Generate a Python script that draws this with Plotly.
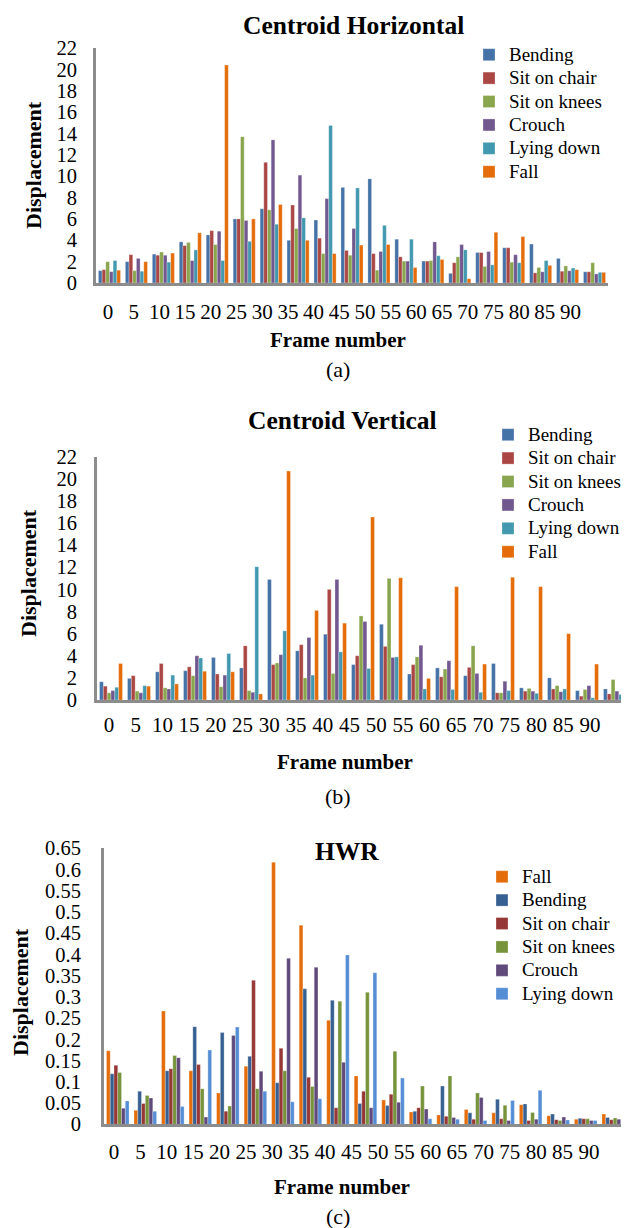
import plotly.graph_objects as go

# page body has a default 8px margin, so the figure is sized to fill the rest of the window
OFF = 8
W, H = 629 - OFF, 1228 - OFF

frames = ["0", "5", "10", "15", "20", "25", "30", "35", "40", "45",
          "50", "55", "60", "65", "70", "75", "80", "85", "90"]

# ---------- (a) Centroid Horizontal ----------
h_bending = [1.16, 2.0, 2.7, 3.85, 4.5, 6.0, 6.95, 4.0, 5.9, 8.95, 9.75, 4.1, 2.05, 0.9, 2.85, 3.3, 3.65, 2.3, 1.05]
h_chair   = [1.25, 2.65, 2.6, 3.5, 4.9, 6.0, 11.3, 7.3, 4.2, 3.05, 2.75, 2.45, 2.05, 1.9, 2.85, 3.3, 0.95, 1.1, 1.05]
h_knees   = [2.0, 1.15, 2.9, 3.8, 3.6, 13.7, 6.85, 5.1, 2.75, 2.6, 1.2, 2.05, 2.1, 2.45, 1.55, 1.95, 1.45, 1.6, 1.9]
h_crouch  = [1.06, 2.3, 2.6, 2.1, 4.85, 5.85, 13.4, 10.1, 7.9, 5.1, 2.95, 2.05, 3.85, 3.6, 2.95, 2.65, 1.05, 1.15, 0.85]
h_lying   = [2.1, 1.1, 1.95, 3.1, 2.1, 3.9, 5.5, 6.1, 14.75, 8.9, 5.4, 4.1, 2.55, 3.1, 1.7, 1.9, 2.1, 1.4, 1.0]
h_fall    = [1.2, 2.0, 2.8, 4.7, 20.4, 6.0, 7.35, 4.0, 2.75, 3.55, 3.6, 1.45, 2.2, 0.4, 4.75, 4.35, 1.65, 1.25, 1.0]

# ---------- (b) Centroid Vertical ----------
v_bending = [1.65, 1.95, 2.55, 2.65, 3.85, 2.9, 10.9, 4.45, 5.95, 3.2, 6.85, 2.35, 2.9, 2.2, 3.3, 1.1, 2.0, 0.85, 1.0]
v_chair   = [1.25, 2.2, 3.3, 3.0, 2.35, 4.9, 3.2, 5.0, 10.0, 4.0, 4.85, 3.2, 2.1, 2.95, 0.65, 0.8, 1.0, 0.35, 0.55]
v_knees   = [0.65, 0.8, 1.1, 2.2, 1.2, 0.85, 3.35, 2.0, 2.4, 7.6, 11.0, 3.9, 2.8, 4.9, 0.65, 1.05, 1.3, 0.95, 1.85]
v_crouch  = [0.85, 0.65, 1.0, 4.0, 2.25, 0.7, 4.1, 5.65, 10.9, 7.1, 3.85, 4.95, 3.55, 2.4, 1.7, 0.8, 0.75, 1.3, 0.8]
v_lying   = [1.15, 1.3, 2.25, 3.8, 4.2, 12.05, 6.25, 2.25, 4.35, 2.85, 3.9, 1.0, 0.95, 0.7, 0.85, 0.6, 1.0, 0.2, 0.5]
v_fall    = [3.3, 1.25, 1.45, 2.6, 2.55, 0.55, 20.7, 8.1, 6.95, 16.55, 11.05, 1.95, 10.25, 3.25, 11.1, 10.25, 6.0, 3.25, 5.85]

# ---------- (c) HWR ----------
r_fall    = [0.173, 0.033, 0.267, 0.126, 0.074, 0.137, 0.617, 0.469, 0.245, 0.114, 0.057, 0.029, 0.022, 0.035, 0.027, 0.046, 0.020, 0.012, 0.024]
r_bending = [0.119, 0.078, 0.126, 0.230, 0.216, 0.160, 0.098, 0.319, 0.292, 0.049, 0.044, 0.031, 0.090, 0.027, 0.059, 0.048, 0.024, 0.014, 0.016]
r_chair   = [0.139, 0.049, 0.131, 0.141, 0.031, 0.339, 0.179, 0.111, 0.039, 0.078, 0.071, 0.039, 0.019, 0.012, 0.013, 0.009, 0.011, 0.013, 0.011]
r_knees   = [0.122, 0.068, 0.162, 0.084, 0.043, 0.084, 0.126, 0.089, 0.290, 0.311, 0.172, 0.090, 0.114, 0.074, 0.045, 0.028, 0.009, 0.013, 0.015]
r_crouch  = [0.038, 0.062, 0.157, 0.017, 0.209, 0.125, 0.391, 0.370, 0.146, 0.039, 0.052, 0.036, 0.016, 0.063, 0.009, 0.012, 0.017, 0.009, 0.012]
r_lying   = [0.055, 0.031, 0.042, 0.175, 0.229, 0.078, 0.053, 0.060, 0.399, 0.357, 0.109, 0.013, 0.012, 0.009, 0.056, 0.080, 0.010, 0.009, 0.009]

ab_names = ["Bending", "Sit on chair", "Sit on knees", "Crouch", "Lying down", "Fall"]
ab_colors = ["#4572A7", "#AA4643", "#89A54E", "#71588F", "#4198AF", "#E46C0A"]
c_names = ["Fall", "Bending", "Sit on chair", "Sit on knees", "Crouch", "Lying down"]
c_colors = ["#E46C0A", "#376092", "#953735", "#77933C", "#604A7B", "#558ED5"]

ab_ticks = list(range(0, 23, 2))
c_tickvals = [0, 0.05, 0.1, 0.15, 0.2, 0.25, 0.3, 0.35, 0.4, 0.45, 0.5, 0.55, 0.6, 0.65]
c_ticktext = ["0", "0.05", "0.1", "0.15", "0.2", "0.25", "0.3", "0.35", "0.4", "0.45", "0.5", "0.55", "0.6", "0.65"]

SERIF = "Liberation Serif, Times New Roman, serif"
LEG_TEXT = 19      # displayed legend text size
LEG_ROW = 15.7     # legend font size that sets the row spacing

# helpers: window pixel position -> paper fraction
def px(v):
    return (v - OFF) / W

def py(v):
    return 1 - (v - OFF) / H

fig = go.Figure()

panels = [
    dict(series=[h_bending, h_chair, h_knees, h_crouch, h_lying, h_fall], names=ab_names, colors=ab_colors,
         xa="x", ya="y", la="x4", legend="legend"),
    dict(series=[v_bending, v_chair, v_knees, v_crouch, v_lying, v_fall], names=ab_names, colors=ab_colors,
         xa="x2", ya="y2", la="x5", legend="legend2"),
    dict(series=[r_fall, r_bending, r_chair, r_knees, r_crouch, r_lying], names=c_names, colors=c_colors,
         xa="x3", ya="y3", la="x6", legend="legend3"),
]

for p in panels:
    for vals, name, col in zip(p["series"], p["names"], p["colors"]):
        fig.add_trace(go.Bar(x=frames, y=vals,
                             name=f'<span style="font-size:{LEG_TEXT}px">{name}</span>',
                             marker_color=col,
                             marker_line=dict(color="rgba(255,255,255,0.55)", width=0.5),
                             xaxis=p["xa"], yaxis=p["ya"], legend=p["legend"]))
    # invisible helper trace carrying the category tick labels
    fig.add_trace(go.Scatter(x=frames, y=p["series"][0], mode="markers",
                             marker=dict(opacity=0), showlegend=False, hoverinfo="skip",
                             xaxis=p["la"], yaxis=p["ya"]))

axis_line = dict(showline=True, linecolor="#8C8C8C", linewidth=3, showgrid=False,
                 zeroline=False, ticks="", automargin=False)
tickfont = dict(family=SERIF, size=20.5, color="black")
lab_axis = dict(type="category", range=[-0.5, 18.5], showline=False, showgrid=False,
                zeroline=False, ticks="", tickfont=dict(family=SERIF, size=21, color="black"),
                tickmode="linear", tick0=0, dtick=1, automargin=False)

# plot areas (window pixel positions)
A = dict(x0=96, x1=608, y0=48, y1=283)
B = dict(x0=97, x1=629, y0=456.7, y1=700)
C = dict(x0=104, x1=627, y0=848.3, y1=1124.3)
# label-axis extents (tick label placement)
LA = (95.15, 583.4)
LB = (95.6, 603.3)
LC = (100.8, 602.2)

def legend_at(x, y):
    return dict(x=px(x), y=py(y), xanchor="left", yanchor="top", traceorder="normal",
                font=dict(family=SERIF, size=LEG_ROW, color="black"),
                bgcolor="rgba(0,0,0,0)", itemwidth=30)

layout = dict(
    width=W, height=H, margin=dict(l=0, r=0, t=0, b=0, autoexpand=False),
    paper_bgcolor="white", plot_bgcolor="rgba(0,0,0,0)",
    barmode="group", bargap=0.18, bargroupgap=0,
    font=dict(family=SERIF, color="black"),
    xaxis=dict(domain=[px(A["x0"]), px(A["x1"])], anchor="y", type="category",
               showticklabels=False, **axis_line),
    yaxis=dict(domain=[py(A["y1"]), py(A["y0"])], anchor="x", range=[0, 22],
               tickvals=ab_ticks, tickfont=tickfont, ticklabelstandoff=12, **axis_line),
    xaxis2=dict(domain=[px(B["x0"]), px(B["x1"])], anchor="y2", type="category",
                showticklabels=False, **axis_line),
    yaxis2=dict(domain=[py(B["y1"]), py(B["y0"])], anchor="x2", range=[0, 22],
                tickvals=ab_ticks, tickfont=tickfont, ticklabelstandoff=13, **axis_line),
    xaxis3=dict(domain=[px(C["x0"]), px(C["x1"])], anchor="y3", type="category",
                showticklabels=False, **axis_line),
    yaxis3=dict(domain=[py(C["y1"]), py(C["y0"])], anchor="x3", range=[0, 0.65],
                tickvals=c_tickvals, ticktext=c_ticktext, tickfont=tickfont,
                ticklabelstandoff=16, **axis_line),
    xaxis4=dict(domain=[px(LA[0]), px(LA[1])], anchor="y", ticklabelstandoff=14, **lab_axis),
    xaxis5=dict(domain=[px(LB[0]), px(LB[1])], anchor="y2", ticklabelstandoff=10, **lab_axis),
    xaxis6=dict(domain=[px(LC[0]), px(LC[1])], anchor="y3", ticklabelstandoff=13, **lab_axis),
    legend=legend_at(469, 38),
    legend2=legend_at(488, 418),
    legend3=legend_at(482, 860),
    showlegend=True,
)

def ann(text, x, y, size, bold=False, angle=0):
    t = f"<b>{text}</b>" if bold else text
    return dict(text=t, x=px(x), y=py(y), xref="paper", yref="paper", showarrow=False,
                xanchor="center", yanchor="middle", textangle=angle,
                font=dict(family=SERIF, size=size, color="black"))

layout["annotations"] = [
    ann("Centroid Horizontal", 353, 25, 25.5, bold=True),
    ann("Displacement", 34, 165, 22, bold=True, angle=-90),
    ann("Frame number", 338, 340, 21, bold=True),
    ann("(a)", 338, 369, 22),
    ann("Centroid Vertical", 343, 420, 25.5, bold=True),
    ann("Displacement", 28, 573, 22, bold=True, angle=-90),
    ann("Frame number", 345, 762, 21, bold=True),
    ann("(b)", 338, 797, 22),
    ann("HWR", 347, 852, 25.5, bold=True),
    ann("Displacement", 20, 992, 22, bold=True, angle=-90),
    ann("Frame number", 342, 1187, 21, bold=True),
    ann("(c)", 338, 1216, 22),
]

fig.update_layout(**layout)
fig.write_html("out.html")
